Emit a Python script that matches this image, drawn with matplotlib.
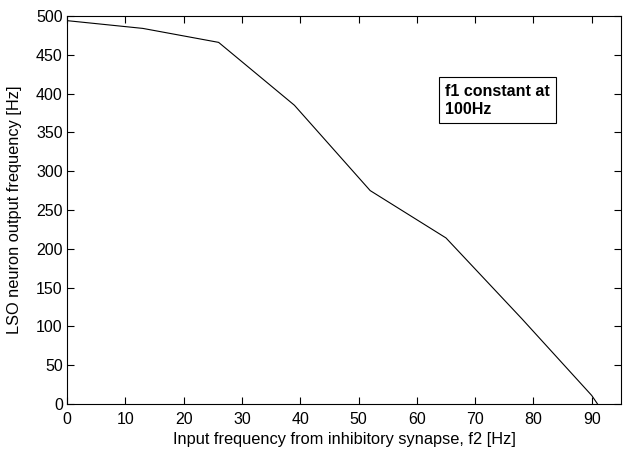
import matplotlib
matplotlib.use("Agg")
import matplotlib.pyplot as plt

f2_hz = [0, 13, 26, 39, 52, 65, 78, 90, 91]
lso_hz = [494, 484, 466, 385, 275, 214, 110, 11, 0]
x_ticks = [0, 10, 20, 30, 40, 50, 60, 70, 80, 90]
y_ticks = [0, 50, 100, 150, 200, 250, 300, 350, 400, 450, 500]

plt.rcParams['font.family'] = ['Liberation Sans', 'DejaVu Sans']

fig = plt.figure(figsize=(6.24, 4.49), dpi=100)
ax = fig.add_axes([0.1074, 0.1002, 0.8876, 0.8642])
ax.plot(f2_hz, lso_hz, color='black', linewidth=0.8)
ax.set_xlim(0, 95)
ax.set_ylim(0, 500)
ax.set_xticks(x_ticks)
ax.set_yticks(y_ticks)
ax.tick_params(direction='in', top=True, right=True, length=5, width=0.8,
               labelsize=11.5)
ax.tick_params(axis='x', pad=6)
ax.tick_params(axis='y', pad=3)
for s in ax.spines.values():
    s.set_linewidth(0.8)
ax.set_xlabel('Input frequency from inhibitory synapse, f2 [Hz]', fontsize=11.8, labelpad=3)
ax.set_ylabel('LSO neuron output frequency [Hz]', fontsize=11.8, labelpad=10)
ax.text(64.8, 413, 'f1 constant at\n100Hz', fontsize=11.5, fontweight='bold',
        va='top', ha='left', linespacing=1.3,
        bbox=dict(boxstyle='square,pad=0.38', facecolor='white', edgecolor='black', linewidth=0.8))
fig.savefig('out.png', dpi=100)
